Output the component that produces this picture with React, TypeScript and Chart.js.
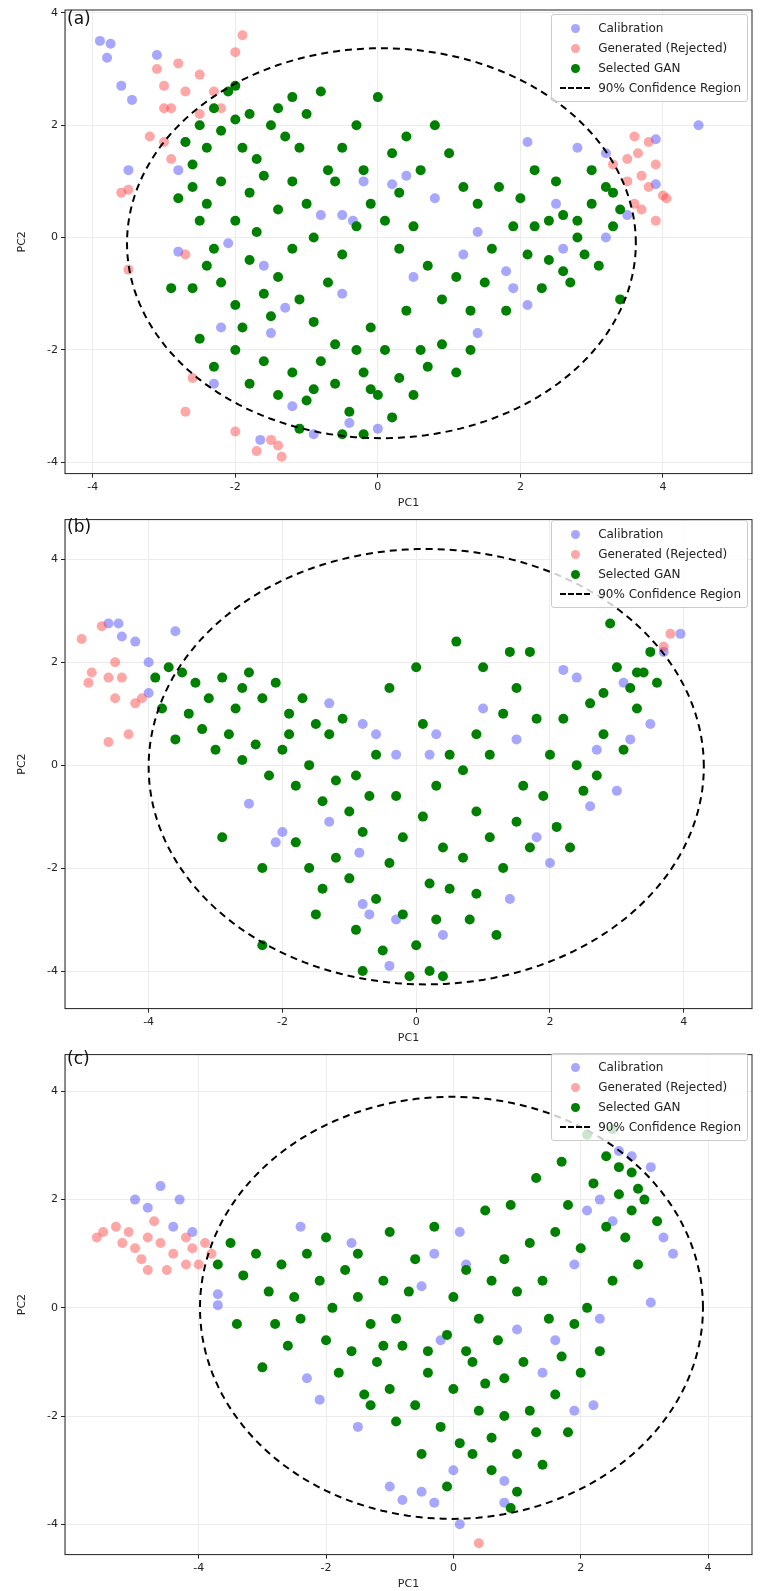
import React, { useEffect, useRef } from "react";
import { Chart, registerables } from "chart.js";
Chart.register(...registerables);

type P = [number, number];

// ---------- Panel (a) ----------
const calibA: P[] = [[-3.9,3.5],[-3.75,3.45],[-3.8,3.2],[-3.6,2.7],[-3.45,2.45],[-3.1,3.25],[-3.5,1.2],[-2.8,1.2],[-2.7,1.7],[-2.8,-0.25],[-2.2,-1.6],[-2.3,-2.6],[-1.5,-1.7],[-1.2,-3.0],[-1.65,-3.6],[-0.9,-3.5],[-0.4,-3.3],[-0.5,-1.0],[-0.2,1.0],[0.2,0.95],[0.4,1.1],[-0.5,0.4],[-0.35,0.3],[0.8,0.7],[1.4,0.1],[1.2,-0.3],[1.4,-1.7],[1.8,-0.6],[2.1,-1.2],[2.6,-0.2],[2.8,1.6],[3.2,1.5],[3.5,0.4],[3.9,1.75],[4.5,2.0],[3.9,0.95],[2.1,1.7],[-1.6,-0.5],[-2.1,-0.1],[0.0,-3.4],[-1.3,-1.25],[0.5,-0.7],[-0.8,0.4],[2.5,0.6],[3.2,0.0],[1.9,-0.9]];
const rejA: P[] = [[-3.1,3.0],[-3.0,2.7],[-2.9,2.3],[-2.7,2.6],[-2.5,2.9],[-2.8,3.1],[-3.0,2.3],[-3.2,1.8],[-3.0,1.7],[-2.9,1.4],[-3.5,0.85],[-3.6,0.8],[-3.5,-0.57],[-2.0,3.3],[-1.9,3.6],[-2.7,-0.3],[-2.6,-2.5],[-2.7,-3.1],[-2.0,-3.45],[-1.7,-3.8],[-1.4,-3.7],[-1.35,-3.9],[-1.4,-4.5],[-1.5,-3.6],[3.5,1.4],[3.6,1.8],[3.7,1.1],[3.8,0.9],[3.7,0.5],[3.9,1.3],[4.0,0.75],[3.5,1.0],[3.8,1.7],[3.6,0.6],[4.05,0.7],[3.9,0.3],[3.3,1.3],[3.65,1.5],[-2.5,2.2],[-2.3,2.6],[-2.2,2.3]];
const ganA: P[] = [[-2.6,1.3],[-2.5,2.0],[-2.4,1.6],[-2.3,2.3],[-2.2,1.9],[-2.1,2.6],[-2.0,2.7],[-2.0,2.1],[-1.9,1.6],[-1.8,2.2],[-1.7,1.4],[-1.5,2.0],[-1.4,2.3],[-1.3,1.8],[-1.2,2.5],[-1.1,1.6],[-1.0,2.2],[-2.6,0.9],[-2.4,0.6],[-2.2,1.0],[-2.0,0.3],[-1.8,0.8],[-1.6,1.1],[-1.4,0.5],[-1.2,1.0],[-2.8,0.7],[-2.5,0.3],[-2.3,-0.2],[-2.6,-0.9],[-2.4,-0.5],[-2.2,-0.8],[-2.0,-1.2],[-1.8,-0.4],[-1.6,-1.0],[-1.4,-0.7],[-1.2,-0.2],[-2.5,-1.8],[-2.3,-2.3],[-2.0,-2.0],[-1.8,-2.6],[-1.6,-2.2],[-1.4,-2.8],[-1.2,-2.4],[-1.0,-2.9],[-0.8,-2.2],[-0.6,-2.6],[-0.4,-3.1],[-0.2,-2.4],[0.0,-2.8],[0.2,-3.2],[-0.5,-3.5],[-0.3,-2.0],[-0.1,-1.6],[0.1,-2.0],[0.3,-2.5],[0.5,-2.8],[0.7,-2.3],[0.9,-1.9],[1.1,-2.4],[1.3,-2.0],[-0.9,-1.5],[-0.7,-0.8],[-0.5,-0.3],[-0.3,0.2],[-0.1,0.6],[0.1,0.3],[0.3,-0.2],[0.5,0.2],[0.7,-0.5],[0.9,-1.1],[1.1,-0.7],[1.3,-1.3],[-0.9,0.0],[-0.7,1.2],[-0.5,1.6],[-0.3,2.0],[0.0,2.5],[0.4,1.8],[0.6,1.2],[0.8,2.0],[1.0,1.5],[1.2,0.9],[1.4,0.6],[1.6,-0.2],[1.8,-1.3],[1.5,-0.8],[-0.8,2.6],[-0.6,1.0],[0.2,1.5],[2.0,0.7],[2.2,0.2],[2.4,-0.4],[2.6,0.4],[2.8,0.0],[3.0,0.6],[3.2,0.9],[3.4,0.5],[2.3,-0.9],[2.6,-0.6],[2.9,-0.3],[3.1,-0.5],[3.3,0.2],[2.2,1.2],[2.5,1.0],[2.8,0.3],[3.0,1.2],[3.4,-1.1],[2.1,-0.3],[1.9,0.2],[-1.1,-3.4],[-0.2,-3.5],[0.6,-2.0],[-1.0,0.6],[-1.9,-1.6],[-2.7,1.7],[2.7,-0.8],[-0.6,-1.9],[-0.9,-2.7],[0.4,-1.3],[-0.1,-2.7],[-1.5,-1.4],[-0.2,1.2],[0.3,0.8],[1.7,0.9],[2.4,0.3],[3.3,0.8],[-1.7,0.1],[-2.9,-0.9],[-1.1,-1.1]];
const ellA = { cx: 0.05, cy: -0.1, rx: 3.57, ry: 3.47 };

// ---------- Panel (b) ----------
const calibB: P[] = [[-4.6,2.75],[-4.45,2.75],[-4.4,2.5],[-4.2,2.4],[-4.0,2.0],[-3.6,2.6],[-4.0,1.4],[-2.5,-0.75],[-2.0,-1.3],[-2.1,-1.5],[-1.3,-1.1],[-0.8,-2.7],[-0.7,-2.9],[-0.3,-3.0],[-0.4,-3.9],[0.2,0.2],[0.3,0.6],[-0.6,0.6],[-0.8,0.8],[-0.3,0.2],[1.0,1.1],[1.5,0.5],[1.8,-1.4],[2.0,-1.9],[2.2,1.85],[2.6,-0.8],[2.7,0.3],[3.0,-0.5],[3.2,0.5],[3.5,0.8],[3.7,2.2],[3.95,2.55],[2.4,1.7],[3.1,1.6],[-1.3,1.2],[0.4,-3.3],[-0.85,-1.7],[1.4,-2.6]];
const rejB: P[] = [[-5.0,2.45],[-4.7,2.7],[-4.85,1.8],[-4.9,1.6],[-4.6,1.7],[-4.5,1.3],[-4.4,1.7],[-4.6,0.45],[-4.2,1.2],[-4.3,0.6],[-4.1,1.3],[-4.5,2.0],[3.8,2.55],[3.7,2.3]];
const ganB: P[] = [[-3.9,1.7],[-3.7,1.9],[-3.5,1.8],[-3.3,1.6],[-3.1,1.3],[-2.9,1.7],[-2.7,1.1],[-2.5,1.8],[-2.3,1.3],[-2.1,1.6],[-1.9,1.0],[-1.7,1.3],[-1.5,0.8],[-1.3,0.6],[-1.1,0.9],[-3.8,1.1],[-3.6,0.5],[-3.4,1.0],[-3.2,0.7],[-3.0,0.3],[-2.8,0.6],[-2.6,0.1],[-2.4,0.4],[-2.2,-0.2],[-2.0,0.3],[-1.8,-0.4],[-1.6,0.0],[-1.4,-0.7],[-1.2,-0.3],[-1.0,-0.9],[-2.9,-1.4],[-2.3,-2.0],[-2.3,-3.5],[-1.8,-1.5],[-1.6,-2.0],[-1.4,-2.4],[-1.2,-1.8],[-1.0,-2.2],[-0.8,-1.3],[-0.6,-2.6],[-0.4,-1.9],[-0.2,-2.9],[0.0,-3.5],[0.2,-4.0],[-0.1,-4.1],[0.4,-4.1],[-0.8,-4.0],[-0.5,-3.6],[0.3,-3.0],[0.5,-2.4],[0.7,-1.8],[0.9,-2.5],[1.1,-1.4],[1.3,-2.0],[1.5,-1.1],[1.7,-1.6],[1.9,-0.6],[2.1,-1.2],[0.1,-1.0],[-0.3,-0.6],[0.3,-0.4],[0.5,0.2],[0.7,-0.1],[0.9,0.6],[1.1,0.2],[1.3,1.0],[1.5,1.5],[1.7,2.2],[1.4,2.2],[1.0,1.9],[0.6,2.4],[0.0,1.9],[-0.4,1.5],[-0.6,0.2],[-0.9,-0.2],[0.1,0.8],[2.0,0.2],[2.2,0.9],[2.4,0.0],[2.6,1.2],[2.8,0.6],[3.0,1.9],[3.2,1.5],[3.4,1.8],[3.6,1.6],[3.3,1.1],[2.9,2.75],[3.5,2.2],[2.5,-0.5],[2.3,-1.6],[2.7,-0.2],[3.1,0.3],[1.8,0.9],[-1.5,-2.9],[-0.9,-3.2],[1.2,-3.3],[0.8,-3.0],[-0.2,-1.4],[0.4,-1.6],[0.9,-0.9],[1.6,-0.4],[2.8,1.4],[3.3,1.8],[-2.6,1.5],[-1.9,0.6],[-0.7,-0.6],[0.2,-2.3]];
const ellB = { cx: 0.15, cy: -0.03, rx: 4.15, ry: 4.23 };

// ---------- Panel (c) ----------
const calibC: P[] = [[-5.0,2.0],[-4.8,1.85],[-4.6,2.25],[-4.3,2.0],[-4.1,1.4],[-4.4,1.5],[-3.7,0.25],[-3.7,0.05],[-2.1,-1.7],[-1.5,-2.2],[-1.0,-3.3],[-0.8,-3.55],[-0.5,-3.4],[-0.3,-3.6],[0.0,-3.0],[0.1,-4.0],[0.8,-3.6],[0.8,-3.2],[1.4,-1.2],[1.6,-0.6],[1.9,-1.9],[2.2,-1.8],[2.3,-0.2],[1.9,0.8],[2.1,1.8],[2.3,2.0],[2.6,2.9],[2.8,2.8],[3.1,0.1],[3.3,1.3],[3.45,1.0],[3.1,2.6],[2.5,1.6],[0.2,0.8],[-0.3,1.0],[-0.5,0.4],[0.1,1.4],[-0.2,-0.6],[1.0,-0.4],[-2.4,1.5],[-2.3,-1.3],[-1.6,1.2]];
const rejC: P[] = [[-5.6,1.3],[-5.5,1.4],[-5.3,1.5],[-5.1,1.4],[-5.0,1.1],[-4.9,0.9],[-4.8,1.3],[-5.2,1.2],[-4.7,1.6],[-4.6,1.2],[-4.5,0.7],[-4.4,1.0],[-4.2,1.3],[-4.1,1.1],[-4.0,0.8],[-3.9,1.2],[-3.8,1.0],[-4.2,0.8],[-4.8,0.7],[0.4,-4.35]];
const ganC: P[] = [[-3.7,0.8],[-3.5,1.2],[-3.3,0.6],[-3.1,1.0],[-2.9,0.3],[-2.7,0.8],[-2.5,0.2],[-2.3,1.0],[-2.1,0.5],[-1.9,0.0],[-1.7,0.7],[-1.5,0.2],[-1.3,-0.3],[-1.1,0.5],[-0.9,-0.2],[-0.7,0.3],[-3.4,-0.3],[-3.0,-1.1],[-2.6,-0.7],[-2.4,-0.2],[-2.0,-0.6],[-1.8,-1.2],[-1.6,-0.8],[-1.4,-1.6],[-1.2,-1.0],[-1.0,-1.5],[-0.8,-0.7],[-0.6,-1.8],[-0.4,-1.2],[-0.2,-2.2],[0.0,-1.5],[0.2,-0.8],[0.4,-1.9],[0.6,-2.4],[0.8,-1.3],[1.0,-2.7],[1.2,-1.9],[1.4,-2.9],[1.0,-3.4],[0.6,-3.0],[0.3,-2.7],[-0.1,-3.3],[-0.5,-2.7],[0.9,-3.7],[1.3,-2.3],[1.6,-1.6],[1.8,-2.3],[2.0,-1.2],[1.7,-0.9],[0.0,0.2],[0.2,0.7],[0.4,-0.2],[0.6,0.5],[0.8,0.9],[1.0,0.3],[1.2,1.2],[1.4,0.5],[1.6,1.4],[1.8,1.9],[2.0,1.1],[2.2,2.3],[2.4,1.5],[2.6,2.1],[2.8,2.5],[3.0,2.0],[2.7,1.3],[2.9,0.8],[3.2,1.6],[2.5,0.5],[2.3,-0.8],[2.1,0.0],[1.9,-0.3],[-0.3,1.5],[-0.6,0.9],[-1.0,1.4],[-1.5,1.0],[-2.0,1.3],[0.5,1.8],[0.9,1.9],[1.3,2.4],[1.7,2.7],[2.1,3.2],[2.5,3.3],[2.9,2.2],[-0.1,-0.5],[-0.9,-2.1],[-1.3,-1.8],[0.1,-2.5],[0.7,-0.6],[1.5,-0.2],[-2.8,-0.3],[-1.1,-0.7],[0.3,-1.0],[0.5,-1.4],[1.1,-1.0],[2.6,2.6],[2.8,1.8],[2.4,2.8],[-0.4,-0.8],[0.8,-2.0]];
const ellC = { cx: -0.03, cy: 0.0, rx: 3.95, ry: 3.9 };

const tickVals = [-4, -2, 0, 2, 4];

const frame = {
  id: "frame",
  afterDraw(c: any) {
    const a = c.chartArea;
    const ctx = c.ctx;
    ctx.save();
    ctx.strokeStyle = "#222";
    ctx.lineWidth = 1;
    ctx.strokeRect(a.left, a.top, a.right - a.left, a.bottom - a.top);
    ctx.restore();
  },
};

function ellipsePts(e: { cx: number; cy: number; rx: number; ry: number }) {
  const out: { x: number; y: number }[] = [];
  for (let i = 0; i <= 180; i++) {
    const t = (i / 180) * Math.PI * 2;
    out.push({ x: e.cx + e.rx * Math.cos(t), y: e.cy + e.ry * Math.sin(t) });
  }
  return out;
}

function Panel(props: {
  label: string; height: number; top: number; calib: P[]; rej: P[]; gan: P[];
  ell: any; xr: [number, number]; yr: [number, number]; legendTop: number;
}) {
  const ref = useRef<HTMLCanvasElement>(null);
  useEffect(() => {
    const toXY = (a: P[]) => a.map(([x, y]) => ({ x, y }));
    const ch = new Chart(ref.current!, {
      type: "scatter",
      data: {
        datasets: [
          { label: "ell", data: ellipsePts(props.ell), showLine: true, borderColor: "#000", borderWidth: 2, borderDash: [7, 5], pointRadius: 0, order: 0 } as any,
          { label: "Calibration", data: toXY(props.calib), backgroundColor: "rgba(60,60,255,0.45)", borderWidth: 0, pointRadius: 5, order: 3 },
          { label: "Rejected", data: toXY(props.rej), backgroundColor: "rgba(255,60,60,0.45)", borderWidth: 0, pointRadius: 5, order: 2 },
          { label: "GAN", data: toXY(props.gan), backgroundColor: "#008000", borderWidth: 0, pointRadius: 5, order: 1 },
        ],
      },
      options: {
        animation: false, responsive: false,
        layout: { padding: { top: props.top, right: 14, left: 12, bottom: 0 } },
        plugins: { legend: { display: false }, tooltip: { enabled: false } },
        scales: {
          x: {
            type: "linear", min: props.xr[0], max: props.xr[1],
            afterBuildTicks: (s: any) => { s.ticks = tickVals.map((v) => ({ value: v })); },
            ticks: { color: "#222", font: { size: 11, family: "DejaVu Sans" } },
            grid: { color: "#ececec", tickColor: "#222", tickLength: 4 },
            title: { display: true, text: "PC1", color: "#222", font: { size: 11, family: "DejaVu Sans" }, padding: 0 },
          },
          y: {
            type: "linear", min: props.yr[0], max: props.yr[1],
            afterBuildTicks: (s: any) => { s.ticks = tickVals.map((v) => ({ value: v })); },
            afterFit: (s: any) => { s.width = 53; },
            ticks: { color: "#222", font: { size: 11, family: "DejaVu Sans" } },
            grid: { color: "#ececec", tickColor: "#222", tickLength: 4 },
            title: { display: true, text: "PC2", color: "#222", font: { size: 11, family: "DejaVu Sans" } },
          },
        },
      },
      plugins: [frame],
    });
    return () => ch.destroy();
  }, []);
  const item = (sw: React.ReactNode, t: string) => (
    <div style={{ display: "flex", alignItems: "center", height: 20 }}>
      <div style={{ width: 34, display: "flex", justifyContent: "center" }}>{sw}</div>
      <span style={{ marginLeft: 6 }}>{t}</span>
    </div>
  );
  const dot = (c: string) => <div style={{ width: 9, height: 9, borderRadius: 5, background: c }} />;
  return (
    <div style={{ position: "relative", width: 766, height: props.height }}>
      <canvas ref={ref} width={766} height={props.height} />
      <div style={{ position: "absolute", left: 67, top: props.top - 2, font: "17px 'DejaVu Sans'", color: "#111" }}>{props.label}</div>
      <div style={{ position: "absolute", right: 18, top: props.legendTop, background: "rgba(255,255,255,0.8)", border: "1px solid #ccc", borderRadius: 3, padding: "3px 6px", font: "12px 'DejaVu Sans'", color: "#222" }}>
        {item(dot("rgba(60,60,255,0.45)"), "Calibration")}
        {item(dot("rgba(255,60,60,0.45)"), "Generated (Rejected)")}
        {item(dot("#008000"), "Selected GAN")}
        {item(<div style={{ width: 30, borderTop: "2px dashed #000" }} />, "90% Confidence Region")}
      </div>
    </div>
  );
}

export default function App() {
  useEffect(() => { document.body.style.margin = "0"; }, []);
  return (
    <div style={{ width: 766 }}>
      <Panel label="(a)" height={510} top={10} calib={calibA} rej={rejA} gan={ganA} ell={ellA} xr={[-4.39, 5.25]} yr={[-4.2, 4.05]} legendTop={14} />
      <Panel label="(b)" height={535} top={8} calib={calibB} rej={rejB} gan={ganB} ell={ellB} xr={[-5.25, 5.02]} yr={[-4.73, 4.77]} legendTop={10} />
      <Panel label="(c)" height={546} top={5} calib={calibC} rej={rejC} gan={ganC} ell={ellC} xr={[-6.1, 4.69]} yr={[-4.56, 4.68]} legendTop={8} />
    </div>
  );
}
